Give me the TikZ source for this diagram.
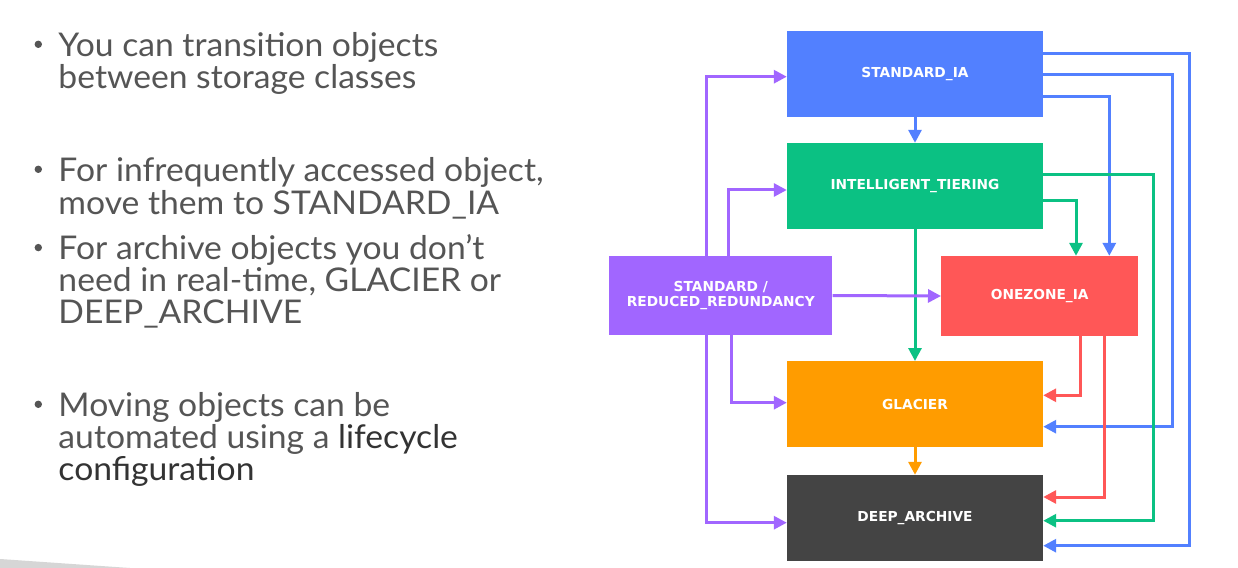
\documentclass[tikz,border=0pt]{standalone}
\usepackage{fontspec}
\setmainfont{Lato}[FakeStretch=1.03]
\newfontfamily\boxfont{DejaVu Sans}
\usetikzlibrary{arrows.meta}
\definecolor{cblue}{HTML}{5280FF}
\definecolor{cgreen}{HTML}{0BC183}
\definecolor{cpurple}{HTML}{A166FF}
\definecolor{cred}{HTML}{FF5757}
\definecolor{corange}{HTML}{FF9C00}
\definecolor{cdark}{HTML}{444444}
\definecolor{ctext}{HTML}{555555}
\definecolor{ctextdark}{HTML}{333333}
\definecolor{cwedge}{HTML}{D6D6D6}
\tikzset{
  sbox/.style={inner sep=0pt, minimum width=256bp, minimum height=86bp, text=white,
    font=\boxfont\bfseries\fontsize{13.8}{16}\selectfont, align=center},
  conn/.style={line width=3bp, -{Triangle[length=13bp,width=13bp]}},
  bodyline/.style={anchor=base west, inner sep=0pt, text=ctext, font=\fontsize{32.8}{32}\selectfont},
  bulletdot/.style={fill=ctext}
}
\begin{document}
\begin{tikzpicture}[x=1bp,y=-1bp]
\useasboundingbox (0,0) rectangle (1238,568);
\fill[white] (0,0) rectangle (1238,568);
\fill[cwedge] (0,559) -- (130,568) -- (0,568) -- cycle;

% body text
\fill[bulletdot] (38.3,44.3) circle[radius=3.7bp];
\node[bodyline] (t1a) at (58.3,56.7) {You can transition objects};
\node[bodyline] (t1b) at (58.3,88.8) {between storage classes};
\fill[bulletdot] (38.3,169.3) circle[radius=3.7bp];
\node[bodyline] (t2a) at (58.3,181.7) {For infrequently accessed object,};
\node[bodyline] (t2b) at (58.3,214.3) {move them to STANDARD\_IA};
\fill[bulletdot] (38.3,247.6) circle[radius=3.7bp];
\node[bodyline] (t3a) at (58.3,260) {For archive objects you don’t};
\node[bodyline] (t3b) at (58.3,291.7) {need in real-time, GLACIER or};
\node[bodyline] (t3c) at (58.3,323.3) {DEEP\_ARCHIVE};
\fill[bulletdot] (38.3,404.3) circle[radius=3.7bp];
\node[bodyline] (t4a) at (58.3,416.7) {Moving objects can be};
\node[bodyline] (t4b) at (58.3,448.3) {automated using a \textcolor{ctextdark}{lifecycle}};
\node[bodyline, text=ctextdark] (t4c) at (58.3,480) {configuration};

% boxes
\node[sbox, fill=cblue] (sia) at (915,74) {STANDARD\_IA};
\node[sbox, fill=cgreen] (it) at (915,186) {INTELLIGENT\_TIERING};
\node[sbox, fill=cpurple, minimum width=223bp, minimum height=79bp] (std) at (720.8,295.5) {STANDARD /\\REDUCED\_REDUNDANCY};
\node[sbox, fill=cred, minimum width=197bp, minimum height=80bp] (oz) at (1039.7,296) {ONEZONE\_IA};
\node[sbox, fill=corange] (gla) at (915,404.2) {GLACIER};
\node[sbox, fill=cdark] (deep) at (915,518) {DEEP\_ARCHIVE};

% blue
\draw[conn, cblue] ([yshift=20.7bp]sia.east) -- ++(146.7,0) |- ([yshift=-27.7bp]deep.east);
\draw[conn, cblue] ([yshift=-1bp]sia.east) -- ++(129,0) |- ([yshift=-22.5bp]gla.east);
\draw[conn, cblue] ([yshift=-22.7bp]sia.east) -| ([xshift=69.6bp]oz.north);
\draw[conn, cblue] (sia.south) -- (it.north);
% green
\draw[conn, cgreen] ([yshift=11bp]it.east) -- ++(110,0) |- ([yshift=-2.7bp]deep.east);
\draw[conn, cgreen] ([yshift=-15bp]it.east) -| ([xshift=36.3bp]oz.north);
\draw[conn, cgreen] (it.south) -- (gla.north);
% red
\draw[conn, cred] ([xshift=41bp]oz.south) |- ([yshift=8.9bp]gla.east);
\draw[conn, cred] ([xshift=64.3bp]oz.south) |- ([yshift=21bp]deep.east);
% orange
\draw[conn, corange] (gla.south) -- (deep.north);
% purple
\draw[conn, cpurple] ([xshift=-14.8bp]std.north) |- ([yshift=-2.7bp]sia.west);
\draw[conn, cpurple] ([xshift=7.5bp]std.north) |- ([yshift=-4bp]it.west);
\draw[conn, cpurple] (std.east) -- (oz.west);
\draw[conn, cpurple] ([xshift=10.9bp]std.south) |- ([yshift=1.5bp]gla.west);
\draw[conn, cpurple] ([xshift=-14.8bp]std.south) |- ([yshift=-4.7bp]deep.west);
\end{tikzpicture}
\end{document}
